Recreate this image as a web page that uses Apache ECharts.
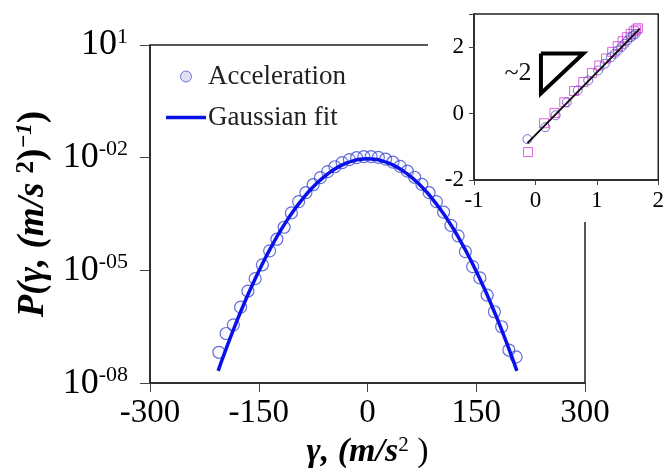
<!DOCTYPE html>
<html>
<head>
<meta charset="utf-8">
<script src="https://cdn.jsdelivr.net/npm/echarts@6/dist/echarts.min.js"></script>
<style>
  html, body { margin: 0; padding: 0; background: #fff; }
  #chart { width: 667px; height: 474px; }
</style>
</head>
<body>
<div id="chart"></div>
<script>
  // main plot: acceleration pdf
  var accX = [-205, -195, -185, -175, -165, -155, -145, -135, -125, -115, -105, -95, -85, -75, -65, -55, -45, -35, -25, -15, -5,
              5, 15, 25, 35, 45, 55, 65, 75, 85, 95, 105, 115, 125, 135, 145, 155, 165, 175, 185, 195, 205];
  var accP = [6.61e-8, 2.09e-7, 3.55e-7, 1.05e-6, 2.82e-6, 6.03e-6, 1.41e-5, 3.31e-5, 6.76e-5, 1.41e-4, 3.39e-4, 6.76e-4, 1.17e-3, 1.91e-3, 2.95e-3, 4.27e-3, 5.75e-3, 7.41e-3, 8.91e-3, 1.0e-2, 1.07e-2,
              1.07e-2, 1.02e-2, 9.12e-3, 7.59e-3, 5.89e-3, 4.37e-3, 3.02e-3, 1.95e-3, 1.17e-3, 6.76e-4, 3.55e-4, 1.58e-4, 8.32e-5, 3.16e-5, 1.26e-5, 6.31e-6, 2.19e-6, 7.94e-7, 3.16e-7, 7.59e-8, 5.01e-8];

  var fitX = [-206, -200, -190, -180, -170, -160, -150, -140, -130, -120, -110, -100, -90, -80, -70, -60, -50, -40, -30, -20, -10, 0,
              10, 20, 30, 40, 50, 60, 70, 80, 90, 100, 110, 120, 130, 140, 150, 160, 170, 180, 190, 200, 206];
  var fitP = [2.12e-8, 4.47e-8, 1.48e-7, 4.58e-7, 1.34e-6, 3.67e-6, 9.48e-6, 2.31e-5, 5.27e-5, 1.14e-4, 2.30e-4, 4.37e-4, 7.82e-4, 1.32e-3, 2.08e-3, 3.10e-3, 4.34e-3, 5.71e-3, 7.08e-3, 8.26e-3, 9.06e-3, 9.33e-3,
              9.06e-3, 8.26e-3, 7.08e-3, 5.71e-3, 4.34e-3, 3.10e-3, 2.08e-3, 1.32e-3, 7.82e-4, 4.37e-4, 2.30e-4, 1.14e-4, 5.27e-5, 2.31e-5, 9.48e-6, 3.67e-6, 1.34e-6, 4.58e-7, 1.48e-7, 4.47e-8, 2.12e-8];

  // inset
  var inCircX = [-0.13, 0.16, 0.33, 0.51, 0.69, 0.86, 1.02, 1.13, 1.23, 1.29, 1.34, 1.40, 1.45, 1.50, 1.55, 1.59, 1.63];
  var inCircY = [-0.77, -0.41, -0.05, 0.34, 0.70, 1.00, 1.30, 1.50, 1.70, 1.80, 1.90, 2.00, 2.10, 2.20, 2.30, 2.35, 2.40];
  var inSqX = [-0.12, 0.14, 0.31, 0.47, 0.63, 0.78, 0.92, 1.04, 1.15, 1.25, 1.34, 1.42, 1.49, 1.55, 1.60, 1.64, 1.67];
  var inSqY = [-1.16, -0.29, 0.02, 0.34, 0.68, 0.95, 1.22, 1.45, 1.66, 1.86, 2.03, 2.18, 2.30, 2.40, 2.48, 2.53, 2.57];
  var inFitX = [-0.13, 1.70];
  var inFitY = [-0.89, 2.56];
  var triX = [0.09, 0.78, 0.09, 0.09];
  var triY = [1.81, 1.81, 0.61, 1.81];

  function pairs(xs, ys) {
    return xs.map(function (x, i) { return [x, ys[i]]; });
  }

  var serif = 'Liberation Serif';
  var chart = echarts.init(document.getElementById('chart'));

  var option = {
    animation: false,
    backgroundColor: '#fff',
    textStyle: { fontFamily: serif, color: '#000' },
    legend: {
      orient: 'vertical',
      left: 161,
      top: 58,
      itemWidth: 40,
      itemHeight: 11,
      itemGap: 14,
      textStyle: { fontFamily: serif, fontSize: 27, lineHeight: 27, color: '#222', padding: [0, 0, 0, -3] },
      data: [
        { name: 'Acceleration', icon: 'circle', itemStyle: { color: '#d8d8f2', borderColor: '#4a56d6', borderWidth: 1 } },
        { name: 'Gaussian fit', icon: 'path://M0,0 L40,0 L40,3.5 L0,3.5 Z', itemStyle: { color: '#0a10e8', borderWidth: 0 } }
      ]
    },
    grid: [
      { left: 150, top: 45, right: 82, bottom: 88, show: true, borderColor: '#222', borderWidth: 1.5 },
      { left: 474, top: 14, right: 6, bottom: 294, show: true, borderColor: '#222', borderWidth: 1.5, z: 10 }
    ],
    xAxis: [
      {
        gridIndex: 0, type: 'value', min: -300, max: 300, interval: 150,
        axisLine: { onZero: false, lineStyle: { color: '#222', width: 1.5 } },
        axisTick: { length: 9, lineStyle: { color: '#444' } },
        axisLabel: { fontSize: 33, margin: 14, color: '#000', fontFamily: serif },
        splitLine: { show: false },
        name: '{i|γ, (m/s}{s|2}{r| )}',
        nameLocation: 'middle',
        nameGap: 48,
        nameTextStyle: {
          rich: {
            i: { fontFamily: serif, fontSize: 34, fontStyle: 'italic', fontWeight: 'bold', lineHeight: 34 },
            s: { fontFamily: serif, fontSize: 21, verticalAlign: 'top', lineHeight: 21 },
            r: { fontFamily: serif, fontSize: 34, lineHeight: 34 }
          }
        }
      },
      {
        gridIndex: 1, type: 'value', min: -1, max: 2, interval: 1, z: 10,
        axisLine: { onZero: false, lineStyle: { color: '#222', width: 1.5 } },
        axisTick: { length: 5, lineStyle: { color: '#444' } },
        axisLabel: { fontSize: 23, margin: 9, color: '#000', fontFamily: serif },
        splitLine: { show: false }
      }
    ],
    yAxis: [
      {
        gridIndex: 0, type: 'log', logBase: 10, min: 1e-8, max: 10, interval: 3,
        axisLine: { onZero: false, lineStyle: { color: '#222', width: 1.5 } },
        axisTick: { length: 10, lineStyle: { color: '#444' } },
        splitLine: { show: false },
        minorTick: { show: false },
        axisLabel: {
          margin: 22,
          formatter: function (v) {
            var e = Math.round(Math.log10(v));
            if (e > 0) return '{b|10}{s|' + e + '}';
            var a = Math.abs(e);
            return '{b|10}{s|-' + (a < 10 ? '0' : '') + a + '}';
          },
          rich: {
            b: { fontFamily: serif, fontSize: 36, lineHeight: 38, color: '#000' },
            s: { fontFamily: serif, fontSize: 22, lineHeight: 22, verticalAlign: 'top', color: '#000' }
          }
        },
        name: '{i|P(γ, (m/s }{s|2}{r|)}{si|−1}{r|)}',
        nameLocation: 'middle',
        nameGap: 98,
        nameTextStyle: {
          rich: {
            i: { fontFamily: serif, fontSize: 37, fontStyle: 'italic', fontWeight: 'bold', lineHeight: 38 },
            s: { fontFamily: serif, fontSize: 25, fontWeight: 'bold', verticalAlign: 'top', lineHeight: 30 },
            r: { fontFamily: serif, fontSize: 37, fontWeight: 'bold', lineHeight: 38 },
            si: { fontFamily: serif, fontSize: 23, fontStyle: 'italic', fontWeight: 'bold', verticalAlign: 'top', lineHeight: 23 }
          }
        }
      },
      {
        gridIndex: 1, type: 'value', min: -2, max: 3, interval: 2, z: 10,
        axisLine: { onZero: false, lineStyle: { color: '#222', width: 1.5 } },
        axisTick: { length: 5, lineStyle: { color: '#444' } },
        axisLabel: {
          fontSize: 23, margin: 10, color: '#000', fontFamily: serif,
          formatter: function (v) { return v > 2 ? '' : String(v); }
        },
        splitLine: { show: false }
      }
    ],
    graphic: [
      // white backing of the inset, hiding the main frame behind it
      { type: 'rect', z: 5, shape: { x: 428, y: 0, width: 239, height: 182 }, style: { fill: '#fff' } },
      { type: 'rect', z: 5, shape: { x: 578, y: 0, width: 89, height: 222 }, style: { fill: '#fff' } },
      {
        type: 'text', z: 20, x: 518, y: 73,
        style: { text: '~2', font: '26px "Liberation Serif"', fill: '#111', textAlign: 'center', textVerticalAlign: 'middle' }
      }
    ],
    series: [
      {
        name: 'Acceleration', type: 'scatter', xAxisIndex: 0, yAxisIndex: 0,
        symbol: 'circle', symbolSize: 12, z: 2,
        itemStyle: { color: 'rgba(210,210,240,0.15)', borderColor: '#3f4ad2', borderWidth: 1.2 },
        data: pairs(accX, accP)
      },
      {
        name: 'Gaussian fit', type: 'line', xAxisIndex: 0, yAxisIndex: 0,
        smooth: true, symbol: 'none', z: 3,
        lineStyle: { color: '#0a10e8', width: 3.5 },
        itemStyle: { color: '#0a10e8' },
        data: pairs(fitX, fitP)
      },
      {
        type: 'scatter', xAxisIndex: 1, yAxisIndex: 1, z: 12,
        symbol: 'rect', symbolSize: 9,
        itemStyle: { color: 'rgba(255,255,255,0)', borderColor: '#d63cd6', borderWidth: 1 },
        data: pairs(inSqX, inSqY)
      },
      {
        type: 'scatter', xAxisIndex: 1, yAxisIndex: 1, z: 12,
        symbol: 'circle', symbolSize: 9,
        itemStyle: { color: 'rgba(255,255,255,0)', borderColor: '#5a50c8', borderWidth: 1 },
        data: pairs(inCircX, inCircY)
      },
      {
        type: 'line', xAxisIndex: 1, yAxisIndex: 1, z: 13,
        symbol: 'none',
        lineStyle: { color: '#111', width: 2 },
        data: pairs(inFitX, inFitY)
      },
      {
        type: 'line', xAxisIndex: 1, yAxisIndex: 1, z: 13,
        symbol: 'none',
        lineStyle: { color: '#000', width: 4, join: 'miter' },
        data: pairs(triX, triY)
      }
    ]
  };

  chart.setOption(option);
</script>
</body>
</html>
